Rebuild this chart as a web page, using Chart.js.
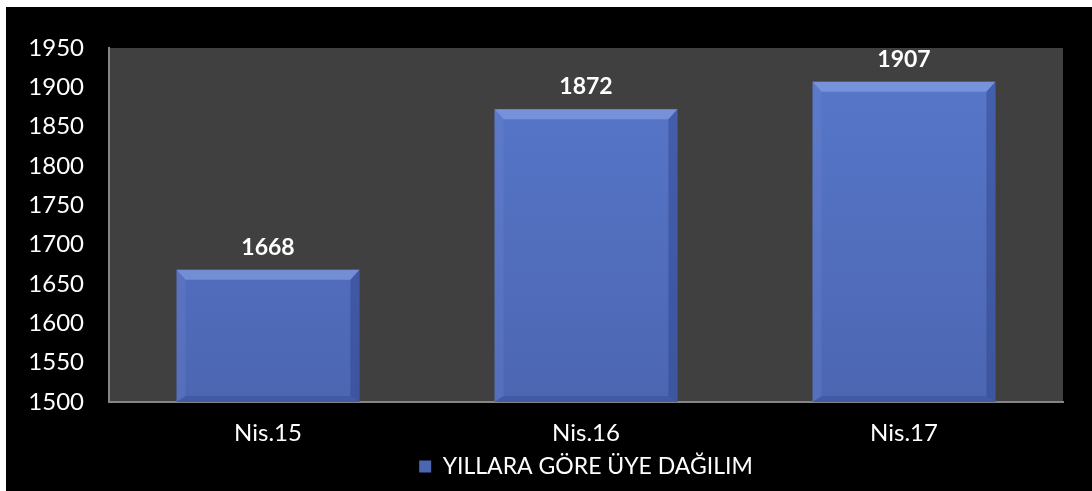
<!DOCTYPE html>
<html>
<head>
<meta charset="utf-8">
<script src="https://cdn.jsdelivr.net/npm/chart.js@4"></script>
<style>
  html, body { margin: 0; padding: 0; background: #fff; }
  #wrap { width: 1092px; height: 491px; }
</style>
</head>
<body>
<div id="wrap"><canvas id="chart"></canvas></div>
<script>
// Datos del gráfico
const categories = ['Nis.15', 'Nis.16', 'Nis.17'];
const seriesName = 'YILLARA GÖRE ÜYE DAĞILIM';
const memberCounts = [1668, 1872, 1907];
const yTicks = [1500, 1550, 1600, 1650, 1700, 1750, 1800, 1850, 1900, 1950];

const FONT = 'Lato, "Open Sans", sans-serif';

// Fondo negro + área gris
const backdrop = {
  id: 'backdrop',
  beforeDraw(chart) {
    const { ctx, chartArea: a } = chart;
    ctx.save();
    ctx.fillStyle = '#000';
    ctx.fillRect(6, 7, chart.width - 6, chart.height - 7);
    ctx.fillStyle = '#404040';
    ctx.fillRect(a.left, a.top, a.right - a.left, a.bottom - a.top);
    ctx.restore();
  }
};

// Relieve de las barras + etiquetas de valor
const bevelLabels = {
  id: 'bevelLabels',
  afterDatasetsDraw(chart) {
    const { ctx, chartArea } = chart;
    const meta = chart.getDatasetMeta(0);
    ctx.save();
    meta.data.forEach((bar, i) => {
      const l = bar.x - bar.width / 2, r = bar.x + bar.width / 2;
      const t = bar.y, b = Math.min(bar.base, chartArea.bottom);
      const bt = 10, bs = 9, bb = 6;
      // arriba
      ctx.fillStyle = 'rgba(140,165,232,0.6)';
      ctx.beginPath();
      ctx.moveTo(l, t); ctx.lineTo(r, t); ctx.lineTo(r - bs, t + bt); ctx.lineTo(l + bs, t + bt);
      ctx.closePath(); ctx.fill();
      // izquierda
      ctx.fillStyle = 'rgba(105,130,205,0.35)';
      ctx.beginPath();
      ctx.moveTo(l, t); ctx.lineTo(l + bs, t + bt); ctx.lineTo(l + bs, b - bb); ctx.lineTo(l, b);
      ctx.closePath(); ctx.fill();
      // derecha
      ctx.fillStyle = 'rgba(40,60,130,0.4)';
      ctx.beginPath();
      ctx.moveTo(r, t); ctx.lineTo(r - bs, t + bt); ctx.lineTo(r - bs, b - bb); ctx.lineTo(r, b);
      ctx.closePath(); ctx.fill();
      // abajo
      ctx.fillStyle = 'rgba(50,70,140,0.35)';
      ctx.beginPath();
      ctx.moveTo(l, b); ctx.lineTo(l + bs, b - bb); ctx.lineTo(r - bs, b - bb); ctx.lineTo(r, b);
      ctx.closePath(); ctx.fill();

      ctx.fillStyle = '#fff';
      ctx.font = 'bold 23px ' + FONT;
      ctx.textAlign = 'center';
      ctx.textBaseline = 'bottom';
      ctx.fillText(String(memberCounts[i]), bar.x, t - 11);
    });
    ctx.restore();
  }
};

const ctx = document.getElementById('chart').getContext('2d');
new Chart(ctx, {
  type: 'bar',
  data: {
    labels: categories,
    datasets: [{
      label: seriesName,
      data: memberCounts,
      backgroundColor(c) {
        const a = c.chart.chartArea;
        if (!a) return '#5470c0';
        const g = c.chart.ctx.createLinearGradient(0, a.top, 0, a.bottom);
        g.addColorStop(0, '#5878cb');
        g.addColorStop(1, '#4c66b2');
        return g;
      },
      borderWidth: 0,
      categoryPercentage: 1,
      barPercentage: 0.575
    }]
  },
  options: {
    responsive: true,
    maintainAspectRatio: false,
    animation: false,
    layout: { padding: { left: 6, top: 48, right: 29, bottom: 3 } },
    plugins: {
      tooltip: { enabled: false },
      legend: {
        position: 'bottom',
        fullSize: false,
        labels: {
          color: '#fff',
          font: { family: FONT, size: 23 },
          boxWidth: 12, boxHeight: 12,
          padding: 6
        }
      }
    },
    scales: {
      x: {
        grid: { display: false, drawTicks: false },
        border: { display: true, color: '#858585', width: 2 },
        ticks: { color: '#fff', font: { family: FONT, size: 24 }, padding: 17 },
        afterFit(s) { s.height = 47; }
      },
      y: {
        min: yTicks[0],
        max: yTicks[yTicks.length - 1],
        afterBuildTicks(s) { s.ticks = yTicks.map(v => ({ value: v })); },
        grid: { display: false, drawTicks: false },
        border: { display: true, color: '#858585', width: 2 },
        ticks: {
          color: '#fff',
          font: { family: FONT, size: 24 },
          padding: 25,
          callback: v => String(v)
        },
        afterFit(s) { s.width = 103; }
      }
    }
  },
  plugins: [backdrop, bevelLabels]
});
</script>
</body>
</html>
